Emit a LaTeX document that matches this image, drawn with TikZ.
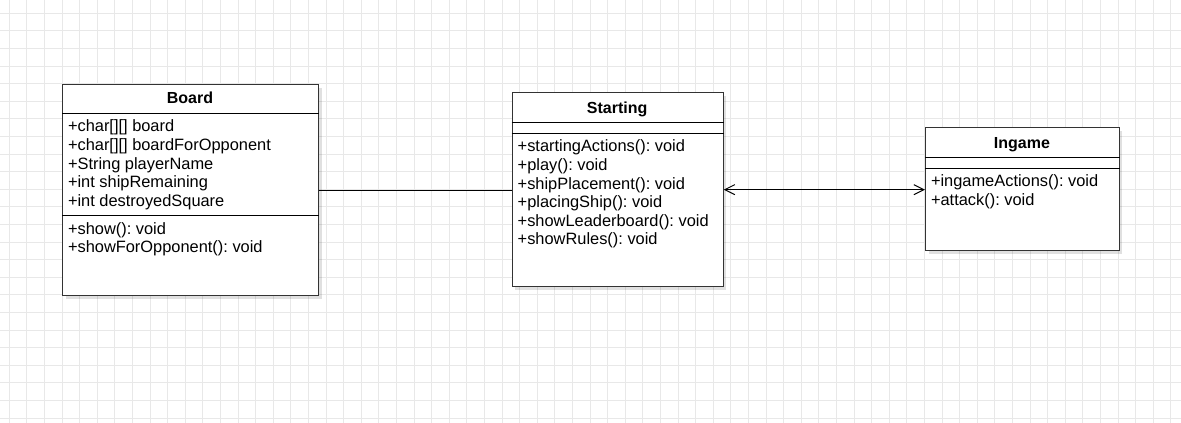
\documentclass[tikz,border=0pt]{standalone}
\usepackage{fontspec}
\setmainfont{Liberation Sans}
\usetikzlibrary{positioning}
\usetikzlibrary{arrows.meta}
\usetikzlibrary{shadows}
\usetikzlibrary{math}
\usetikzlibrary{calc}

\begin{document}
\frenchspacing
\begin{tikzpicture}[x=1pt,y=-1pt,line width=1pt,
  gridline/.style={draw=black!9},
  classbox/.style={draw=black!80, fill=white, anchor=north west, inner sep=0pt,
    drop shadow={shadow xshift=3pt, shadow yshift=-3pt, fill=black, opacity=0.12}},
  classname/.style={anchor=base, inner sep=0pt, font=\fontsize{16}{18.6}\selectfont\bfseries},
  members/.style={anchor=north west, inner sep=0pt, align=left, font=\fontsize{16.4}{18.6}\selectfont\frenchspacing},
  separator/.style={draw=black},
  link/.style={draw=black, >={Straight Barb[length=10pt,width=10pt]}}]

  \tikzmath{
    \gridstep = 17.6; % spacing of the background grid
    \gridx    = 9.3;  % first vertical grid line
    \gridy    = 13.3; % first horizontal grid line
    \pad      = 5.5;  % left padding of the member lists
  }

  \useasboundingbox (0,0) rectangle (1181,423);

  % background grid
  \foreach \i in {0,...,66} {
    \draw[gridline] ({\gridx+\gridstep*\i},0) -- ({\gridx+\gridstep*\i},423);
  }
  \foreach \j in {0,...,23} {
    \draw[gridline] (0,{\gridy+\gridstep*\j}) -- (1181,{\gridy+\gridstep*\j});
  }

  % class boxes
  \node[classbox, minimum width=256pt, minimum height=211pt] (board) at (62,84) {};
  \node[classbox, minimum width=211pt, minimum height=193.7pt] (starting) at (511.7,92.3) {};
  \node[classbox, minimum width=193.7pt, minimum height=123pt] (ingame) at (925,127.3) {};

  % compartment separators
  \draw[separator] (board.west |- 0,113.3) -- (board.east |- 0,113.3);
  \draw[separator] (board.west |- 0,215.7) -- (board.east |- 0,215.7);
  \draw[separator] (starting.west |- 0,122.7) -- (starting.east |- 0,122.7);
  \draw[separator] (starting.west |- 0,133.3) -- (starting.east |- 0,133.3);
  \draw[separator] (ingame.west |- 0,157.7) -- (ingame.east |- 0,157.7);
  \draw[separator] (ingame.west |- 0,168.3) -- (ingame.east |- 0,168.3);

  % class names
  \node[classname] (board-name) at (190,103.4) {Board};
  \node[classname] (starting-name) at (617.2,113) {Starting};
  \node[classname] (ingame-name) at (1021.9,148) {Ingame};

  % attributes and operations
  \node[members] (board-attrs) at ({62+\pad},118.3)
  {\strut+char[][] board\\
   \strut+char[][] boardForOpponent\\
   \strut+String playerName\\
   \strut+int shipRemaining\\
   \strut+int destroyedSquare};
  \node[members] (board-ops) at ({62+\pad},220.7)
  {\strut+show(): void\\
   \strut+showForOpponent(): void};
  \node[members] (starting-ops) at ({511.7+\pad},138.3)
  {\strut+startingActions(): void\\
   \strut+play(): void\\
   \strut+shipPlacement(): void\\
   \strut+placingShip(): void\\
   \strut+showLeaderboard(): void\\
   \strut+showRules(): void};
  \node[members] (ingame-ops) at ({925+\pad},173.3)
  {\strut+ingameActions(): void\\
   \strut+attack(): void};

  % associations
  \draw[link] (board.east) -- (board.east -| starting.west);
  \draw[link,<->] (starting.east) -- (starting.east -| ingame.west);

\end{tikzpicture}
\end{document}
